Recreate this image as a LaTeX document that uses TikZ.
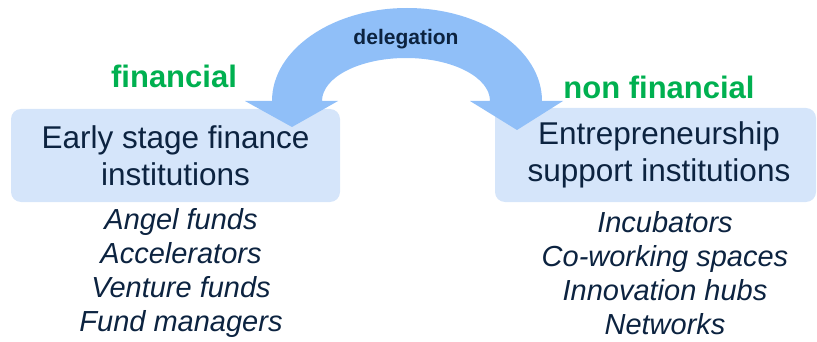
\documentclass[tikz,border=0pt]{standalone}
\usepackage{fontspec}
\setmainfont{Liberation Sans}
\usepackage{tikz}
\usetikzlibrary{positioning}
\definecolor{boxblue}{HTML}{D5E5FA}
\definecolor{arrowblue}{HTML}{90BFF8}
\definecolor{navy}{HTML}{0C2340}
\definecolor{kindgreen}{HTML}{00B050}
\tikzstyle{instbox} = [rectangle, rounded corners=10pt, fill=boxblue, text=navy, align=center, font=\fontsize{31.5}{37}\selectfont]
\tikzstyle{kindtag} = [text=kindgreen, font=\bfseries\fontsize{31}{37}\selectfont]
\tikzstyle{members} = [text=navy, align=center, font=\itshape\fontsize{29}{34}\selectfont]

\begin{document}
\begin{tikzpicture}[x=1pt, y=1pt]
		\useasboundingbox (0,0) rectangle (817,-342);
		\node (finbox) [instbox, minimum width=329pt, minimum height=93pt] at (175.5,-155.5) {Early stage finance\\institutions};
		\node (supbox) [instbox, minimum width=321pt, minimum height=94pt] at (655.5,-155) {\hspace*{7pt}Entrepreneurship\\\hspace*{7pt}support institutions};
		\node (fin) [kindtag] at (174,-76) {financial};
		\node (nonfin) [kindtag] at (659,-87) {non financial};
		\node (finlist) [members] at (181,-273) {Angel funds\\Accelerators\\Venture funds\\Fund managers};
		\node (suplist) [members] at (665,-273) {Incubators\\Co-working spaces\\Innovation hubs\\Networks};
		% curved block arrow, heads on both boxes
		\coordinate (tipL) at (292,-127);
		\coordinate (tipR) at (517,-130);
		\fill [arrowblue] (272,-101) arc[start angle=180, end angle=0, x radius=135, y radius=93]
			-- (563,-101) -- (tipR) -- (470,-101) -- (490,-101)
			arc[start angle=0, end angle=180, x radius=84, y radius=43]
			-- (338,-101) -- (tipL) -- (245,-101) -- cycle;
		\node (deleg) [text=navy, font=\bfseries\fontsize{21}{25}\selectfont] at (406,-39) {delegation};
\end{tikzpicture}
\end{document}
